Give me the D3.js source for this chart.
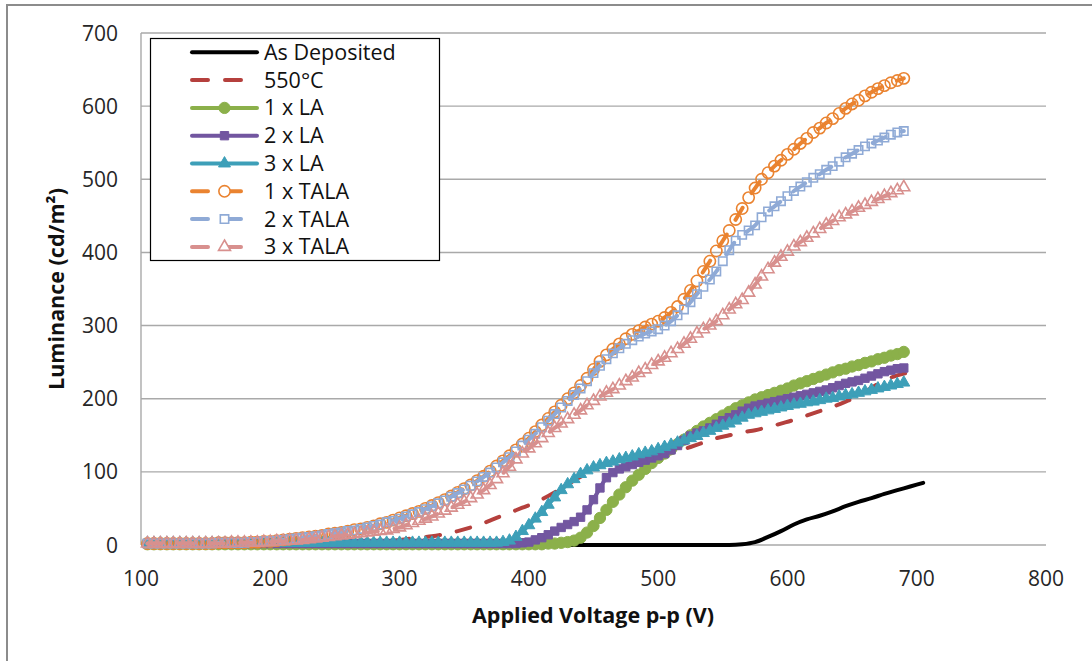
<!DOCTYPE html>
<html>
<head>
<meta charset="utf-8">
<script src="https://cdn.jsdelivr.net/npm/d3@7"></script>
<style>
  html, body { margin: 0; padding: 0; background: #fff; }
  svg { display: block; font-family: "Open Sans", "Noto Sans", sans-serif; }
</style>
</head>
<body>
<div id="chart"></div>
<script>
// voltage sweeps (V p-p)
const markerVolts = d3.range(105, 691, 5);   // 105 .. 690, marker series
const lineVolts = d3.range(105, 706, 10);    // 105 .. 705, plain line series

const xTicks = [100, 200, 300, 400, 500, 600, 700, 800];
const yTicks = [0, 100, 200, 300, 400, 500, 600, 700];

const seriesNames = ["As Deposited", "550°C", "1 x LA", "2 x LA", "3 x LA", "1 x TALA", "2 x TALA", "3 x TALA"];

// luminance (cd/m2)
const asDeposited = [
  0, 0, 0, 0, 0, 0, 0, 0, 0, 0,
  0, 0, 0, 0, 0, 0, 0, 0, 0, 0,
  0, 0, 0, 0, 0, 0, 0, 0, 0, 0,
  0, 0, 0, 0, 0, 0, 0, 0, 0, 0,
  0, 0, 0, 0, 0, 0, 1, 4, 11, 19,
  28, 35, 40, 46, 53, 59, 64, 70, 75, 80,
  85
];
const annealed550 = [
  1, 1, 1, 1, 1, 1, 1, 1, 1, 2,
  2, 2, 2, 3, 3, 3, 4, 4, 5, 6,
  8, 10, 12, 15, 19, 24, 30, 37, 44, 51,
  58, 67, 77, 88, 98, 107, 114, 118, 120, 122,
  124, 128, 134, 140, 146, 150, 154, 157, 161, 166,
  171, 177, 183, 189, 196, 204, 215, 225, 232, 236
];
const la1 = [
  1, 1, 1, 1, 1, 1, 1, 1, 1, 1,
  1, 1, 1, 1, 1, 1, 1, 1, 1, 1,
  1, 1, 1, 1, 1, 1, 1, 1, 1, 1,
  1, 1, 1, 1, 1, 1, 1, 1, 1, 1,
  1, 1, 1, 1, 1, 1, 1, 1, 1, 1,
  1, 1, 1, 1, 1, 1, 1, 1, 1, 1,
  1, 1, 2, 2, 3, 4, 6, 10, 17, 26,
  37, 48, 59, 69, 79, 88, 96, 104, 112, 119,
  125, 131, 138, 144, 150, 156, 162, 167, 172, 177,
  182, 187, 191, 195, 199, 202, 205, 208, 211, 214,
  218, 221, 224, 227, 230, 233, 236, 239, 241, 244,
  246, 249, 251, 254, 256, 259, 261, 264
];
const la2 = [
  2, 2, 2, 2, 2, 2, 2, 2, 2, 2,
  2, 2, 2, 2, 2, 2, 2, 2, 2, 2,
  2, 2, 2, 2, 2, 2, 2, 2, 2, 2,
  2, 2, 2, 2, 2, 2, 2, 2, 2, 2,
  2, 2, 2, 2, 2, 2, 2, 2, 2, 2,
  2, 2, 2, 2, 2, 2, 2, 2, 3, 4,
  7, 10, 14, 19, 24, 28, 32, 38, 48, 62,
  78, 92, 99, 104, 107, 110, 113, 116, 119, 122,
  125, 130, 136, 143, 149, 153, 156, 160, 165, 170,
  174, 178, 183, 187, 190, 192, 194, 196, 198, 200,
  202, 204, 206, 208, 210, 212, 215, 218, 221, 223,
  225, 228, 231, 234, 237, 239, 241, 242
];
const la3 = [
  3, 3, 3, 3, 3, 3, 3, 3, 3, 3,
  3, 3, 3, 3, 3, 3, 3, 3, 3, 3,
  3, 3, 3, 3, 3, 3, 3, 3, 3, 3,
  3, 3, 3, 3, 3, 3, 3, 3, 3, 3,
  3, 3, 3, 3, 3, 3, 3, 3, 3, 3,
  3, 3, 3, 3, 3, 4, 6, 11, 19, 27,
  36, 45, 55, 65, 75, 83, 90, 97, 102, 106,
  109, 112, 114, 117, 119, 121, 124, 126, 128, 131,
  134, 137, 140, 143, 146, 149, 153, 156, 160, 163,
  166, 170, 174, 178, 180, 182, 184, 186, 188, 190,
  192, 193, 195, 196, 198, 200, 201, 203, 205, 206,
  208, 210, 212, 214, 216, 218, 220, 222
];
const tala1 = [
  2, 2, 2, 2, 2, 2, 2, 2, 2, 2,
  2, 3, 3, 3, 3, 3, 4, 4, 5, 5,
  6, 7, 8, 9, 10, 11, 12, 13, 15, 16,
  17, 19, 21, 22, 24, 26, 29, 31, 34, 37,
  40, 43, 46, 50, 54, 58, 62, 67, 72, 77,
  82, 88, 94, 101, 108, 115, 122, 130, 138, 146,
  155, 164, 173, 182, 191, 200, 208, 218, 228, 240,
  251, 260, 268, 275, 282, 288, 293, 298, 302, 306,
  311, 318, 326, 336, 348, 361, 374, 388, 402, 416,
  430, 445, 460, 475, 488, 500, 509, 518, 526, 534,
  541, 549, 556, 564, 570, 577, 583, 590, 597, 603,
  608, 614, 619, 624, 628, 632, 635, 638
];
const tala2 = [
  2, 2, 2, 2, 2, 2, 2, 2, 2, 2,
  2, 3, 3, 3, 3, 3, 4, 4, 5, 5,
  6, 7, 8, 9, 10, 11, 12, 13, 15, 16,
  17, 19, 20, 22, 24, 26, 28, 31, 33, 36,
  39, 42, 45, 49, 53, 57, 61, 66, 71, 76,
  81, 87, 93, 99, 106, 113, 120, 128, 136, 144,
  152, 161, 170, 179, 188, 197, 205, 214, 224, 235,
  245, 254, 262, 269, 275, 280, 285, 289, 292, 295,
  300, 306, 314, 322, 332, 343, 353, 363, 374, 388,
  403, 416, 424, 430, 437, 448, 456, 463, 470, 477,
  484, 490, 496, 502, 507, 513, 518, 524, 530, 535,
  540, 545, 549, 553, 557, 561, 564, 566
];
const tala3 = [
  2, 2, 2, 2, 2, 2, 2, 2, 2, 2,
  2, 2, 2, 3, 3, 3, 3, 3, 4, 4,
  5, 5, 6, 6, 7, 8, 9, 10, 11, 12,
  13, 14, 15, 16, 17, 18, 19, 20, 22, 24,
  27, 30, 33, 36, 39, 43, 47, 51, 55, 59,
  64, 69, 75, 82, 90, 98, 107, 117, 125, 132,
  139, 146, 153, 160, 166, 172, 178, 184, 191, 197,
  203, 208, 213, 218, 224, 229, 235, 240, 246, 251,
  256, 262, 268, 275, 282, 289, 295, 300, 306, 314,
  322, 329, 335, 345, 356, 367, 377, 386, 394, 401,
  408, 414, 420, 426, 432, 438, 443, 448, 452, 456,
  461, 465, 469, 473, 477, 481, 485, 489
];

const seriesValues = [asDeposited, annealed550, la1, la2, la3, tala1, tala2, tala3];
const seriesColors = ["#000000", "#b5403d", "#8bb04a", "#7256a0", "#3d9fb8", "#ea8330", "#8faad6", "#d8908e"];
const seriesMarkers = [null, null, "circle", "square", "triangle", "circle", "square", "triangle"];
const seriesFilled = [true, true, true, true, true, false, false, false];
const seriesDashed = [false, true, false, false, false, true, true, true];

function main() {
    const width = 1092;
    const height = 661;

    const svg = d3.select("#chart")
        .append("svg")
        .attr("width", width)
        .attr("height", height)
        .style("background-color", "#ffffff");

    // outer chart frame (only left and top edges are inside the picture)
    svg.append("path")
        .attr("d", "M7,661 V5 H1092")
        .attr("fill", "none")
        .attr("stroke", "#8c8c8c")
        .attr("stroke-width", 2);

    const x = d3.scaleLinear().domain([100, 800]).range([141, 1046]);
    const y = d3.scaleLinear().domain([0, 700]).range([545, 33]);

    // gridlines
    svg.append("g")
        .selectAll("line")
        .data(yTicks)
        .enter()
        .append("line")
        .attr("x1", x(100))
        .attr("x2", x(800))
        .attr("y1", d => y(d))
        .attr("y2", d => y(d))
        .attr("stroke", "#a9a9a9")
        .attr("stroke-width", 1.4);

    svg.append("line")
        .attr("x1", x(100)).attr("x2", x(100))
        .attr("y1", y(0)).attr("y2", y(700))
        .attr("stroke", "#a9a9a9")
        .attr("stroke-width", 1.4);

    // tick labels
    svg.append("g")
        .selectAll("text")
        .data(yTicks)
        .enter()
        .append("text")
        .attr("x", 118)
        .attr("y", d => y(d) + 7.5)
        .attr("text-anchor", "end")
        .attr("font-size", 21)
        .attr("fill", "#262626")
        .text(d => d);

    svg.append("g")
        .selectAll("text")
        .data(xTicks)
        .enter()
        .append("text")
        .attr("x", d => x(d))
        .attr("y", 586)
        .attr("text-anchor", "middle")
        .attr("font-size", 21)
        .attr("fill", "#262626")
        .text(d => d);

    // axis titles
    svg.append("text")
        .attr("x", 593)
        .attr("y", 623)
        .attr("text-anchor", "middle")
        .attr("font-size", 21.5)
        .attr("font-weight", "bold")
        .attr("fill", "#111")
        .text("Applied Voltage p-p (V)");

    svg.append("text")
        .attr("transform", "translate(64,289) rotate(-90)")
        .attr("text-anchor", "middle")
        .attr("font-size", 21.5)
        .attr("font-weight", "bold")
        .attr("fill", "#111")
        .text("Luminance (cd/m²)");

    const symbolType = {
        circle: d3.symbolCircle,
        square: d3.symbolSquare,
        triangle: d3.symbolTriangle
    };
    const symbolSize = { circle: 100, square: 70, triangle: 62 };

    const line = d3.line()
        .x(d => x(d[0]))
        .y(d => y(d[1]))
        .curve(d3.curveMonotoneX);

    // series, drawn in legend order like the spreadsheet
    seriesValues.forEach(function (vals, i) {
        const volts = seriesMarkers[i] ? markerVolts : lineVolts;
        const pts = vals.map((v, j) => [volts[j], v]);
        const g = svg.append("g").attr("class", "series");

        g.append("path")
            .datum(pts)
            .attr("d", line)
            .attr("fill", "none")
            .attr("stroke", seriesColors[i])
            .attr("stroke-width", 4)
            .attr("stroke-linecap", "round")
            .attr("stroke-dasharray", seriesDashed[i] ? "14,17" : null);

        if (seriesMarkers[i]) {
            const sym = d3.symbol().type(symbolType[seriesMarkers[i]]).size(symbolSize[seriesMarkers[i]]);
            g.selectAll("path.mk")
                .data(pts)
                .enter()
                .append("path")
                .attr("class", "mk")
                .attr("transform", d => "translate(" + x(d[0]) + "," + y(d[1]) + ")")
                .attr("d", sym)
                .attr("fill", seriesFilled[i] ? seriesColors[i] : "none")
                .attr("stroke", seriesColors[i])
                .attr("stroke-width", seriesFilled[i] ? 1 : 1.6);
        }
    });

    // legend
    const legend = svg.append("g");
    legend.append("rect")
        .attr("x", 150.5)
        .attr("y", 38.5)
        .attr("width", 289)
        .attr("height", 222)
        .attr("fill", "#ffffff")
        .attr("stroke", "#000")
        .attr("stroke-width", 1.2);

    seriesNames.forEach(function (name, i) {
        const cy = 52.3 + i * 27.8;
        const row = legend.append("g");
        row.append("line")
            .attr("x1", 192).attr("x2", 257)
            .attr("y1", cy).attr("y2", cy)
            .attr("stroke", seriesColors[i])
            .attr("stroke-width", 4)
            .attr("stroke-linecap", "round")
            .attr("stroke-dasharray", seriesDashed[i] ? "16,17" : null);
        if (seriesMarkers[i]) {
            const sym = d3.symbol().type(symbolType[seriesMarkers[i]]).size(symbolSize[seriesMarkers[i]]);
            row.append("path")
                .attr("transform", "translate(224.5," + cy + ")")
                .attr("d", sym)
                .attr("fill", seriesFilled[i] ? seriesColors[i] : "#fff")
                .attr("stroke", seriesColors[i])
                .attr("stroke-width", seriesFilled[i] ? 1 : 1.6);
        }
        row.append("text")
            .attr("x", 264)
            .attr("y", cy + 7.5)
            .attr("font-size", 21.5)
            .attr("fill", "#111")
            .text(name);
    });
}

main();
</script>
</body>
</html>
